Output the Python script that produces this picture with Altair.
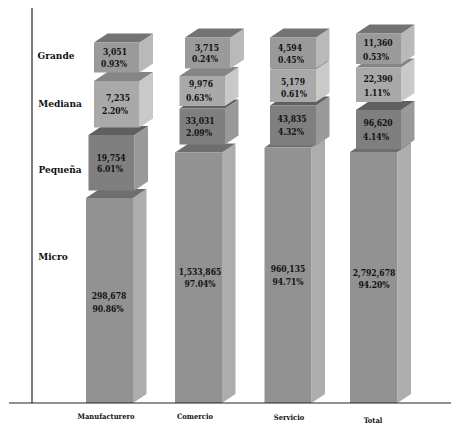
import altair as alt
import pandas as pd

categories = ["Manufacturero", "Comercio", "Servicio", "Total"]
sizes = ["Micro", "Pequeña", "Mediana", "Grande"]

counts = [
    ["298,678", "19,754", "7,235", "3,051"],
    ["1,533,865", "33,031", "9,976", "3,715"],
    ["960,135", "43,835", "5,179", "4,594"],
    ["2,792,678", "96,620", "22,390", "11,360"],
]
shares = [
    ["90.86%", "6.01%", "2.20%", "0.93%"],
    ["97.04%", "2.09%", "0.63%", "0.24%"],
    ["94.71%", "4.32%", "0.61%", "0.45%"],
    ["94.20%", "4.14%", "1.11%", "0.53%"],
]

# block extents, in chart units (x left, x right, y bottom, y top)
bar_left = [[86, 88.5, 94, 94], [175, 179.5, 179.5, 185], [264.5, 270, 270, 270], [350, 356, 356, 356]]
bar_right = [[133, 134.5, 139.5, 139.5], [222, 225, 225, 230.5], [311.5, 316, 316, 316], [397.5, 401, 401, 401]]
bar_bottom = [[403, 190.5, 127.5, 72.5], [403, 144.5, 106, 68.5], [403, 145.5, 102, 68.5], [403, 149, 102, 64]]
bar_top = [[198, 135, 81, 42.5], [152.5, 108.5, 76, 37.5], [147.5, 105.5, 69.5, 37.5], [152, 110, 67.5, 33.5]]
depth_x = 13.5
depth_y = 9.0

count_x = [[109, 111, 118, 115], [200, 200, 201, 207], [288, 292, 293, 290], [374, 378, 378, 378]]
count_y = [[296, 158, 98, 52], [272, 121, 84, 48], [269, 119, 82, 48], [273, 123, 79, 43]]
share_x = [[108, 110, 115, 114], [200, 199, 199, 205], [288, 291, 294, 291], [374, 376, 377, 376]]
share_y = [[309, 169, 111, 64], [284, 133, 98, 59], [282, 132, 94, 60], [285, 137, 93, 57]]
cat_x = [106, 195, 289, 373]
cat_y = [417, 417, 418, 421]
size_x = [53, 60, 60, 56]
size_y = [257, 169.5, 104, 56]

front_colors = ["#929292", "#7f7f7f", "#a9a9a9", "#9a9a9a"]
side_colors = ["#adadad", "#999999", "#c9c9c9", "#b9b9b9"]
top_colors = ["#6e6e6e", "#5f5f5f", "#858585", "#737373"]

X = alt.Scale(domain=[8, 451], range=[0, 443], nice=False, zero=False)
Y = alt.Scale(domain=[8, 426], range=[0, 418], nice=False, zero=False)


def xc(name="x"):
    return alt.X(f"{name}:Q", scale=X, axis=None)


def yc(name="y"):
    return alt.Y(f"{name}:Q", scale=Y, axis=None)


layers = []
for i in range(len(categories)):
    for j in range(len(sizes)):
        l, r, b, t = bar_left[i][j], bar_right[i][j], bar_bottom[i][j], bar_top[i][j]
        # side face
        side = pd.DataFrame(
            {"x": [r, r + depth_x], "y": [t, t - depth_y], "y2": [b, b - depth_y]}
        )
        layers.append(
            alt.Chart(side)
            .mark_area(color=side_colors[j], interpolate="linear")
            .encode(x=xc(), y=yc(), y2="y2:Q")
        )
        # top face
        top = pd.DataFrame(
            {
                "x": [l, l + depth_x, r, r + depth_x],
                "y": [t, t - depth_y, t - depth_y, t - depth_y],
                "y2": [t, t, t, t - depth_y],
            }
        )
        layers.append(
            alt.Chart(top)
            .mark_area(color=top_colors[j], interpolate="linear")
            .encode(x=xc(), y=yc(), y2="y2:Q")
        )
        # front face
        front = pd.DataFrame({"x": [l], "x2": [r], "y": [t], "y2": [b]})
        layers.append(
            alt.Chart(front)
            .mark_rect(color=front_colors[j])
            .encode(x=xc(), x2="x2:Q", y=yc(), y2="y2:Q")
        )

text_rows = []
for i in range(len(categories)):
    for j in range(len(sizes)):
        text_rows.append({"x": count_x[i][j], "y": count_y[i][j], "text": counts[i][j]})
        text_rows.append({"x": share_x[i][j], "y": share_y[i][j], "text": shares[i][j]})
labels = pd.DataFrame(text_rows)
layers.append(
    alt.Chart(labels)
    .mark_text(
        font="DejaVu Serif Condensed", fontSize=8.5, color="#111111", align="center",
        baseline="middle", fontWeight="bold",
    )
    .encode(x=xc(), y=yc(), text="text:N")
)

cat_df = pd.DataFrame({"x": cat_x, "y": cat_y, "text": categories})
layers.append(
    alt.Chart(cat_df)
    .mark_text(font="DejaVu Serif Condensed", fontSize=7.5, fontWeight="bold", color="#111111", align="center", baseline="middle")
    .encode(x=xc(), y=yc(), text="text:N")
)
size_df = pd.DataFrame({"x": size_x, "y": size_y, "text": sizes})
layers.append(
    alt.Chart(size_df)
    .mark_text(font="DejaVu Serif Condensed", fontSize=10, fontWeight="bold", color="#111111", align="center", baseline="middle")
    .encode(x=xc(), y=yc(), text="text:N")
)

axis_v = pd.DataFrame({"x": [32], "y": [8], "y2": [403]})
axis_h = pd.DataFrame({"x": [9], "x2": [451], "y": [403]})
layers.append(
    alt.Chart(axis_v).mark_rule(color="#222222", strokeWidth=1.2).encode(x=xc(), y=yc(), y2="y2:Q")
)
layers.append(
    alt.Chart(axis_h).mark_rule(color="#222222", strokeWidth=1.2).encode(x=xc(), x2="x2:Q", y=yc())
)

chart = (
    alt.layer(*layers)
    .properties(width=443, height=418, padding=0, autosize=alt.AutoSizeParams(type="none"))
    .configure_view(stroke=None)
)
chart.save("out.html", embed_options={"renderer": "svg", "actions": False})
